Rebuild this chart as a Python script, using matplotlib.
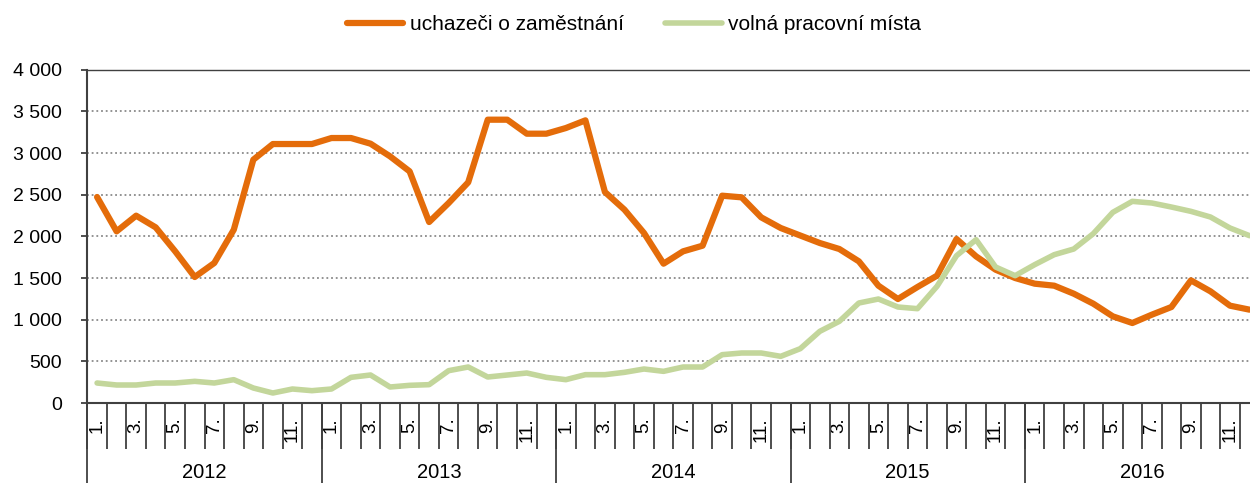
import numpy as np
import matplotlib
matplotlib.use("Agg")
import matplotlib.pyplot as plt
import matplotlib.transforms as mtransforms
from matplotlib.ticker import FuncFormatter

plt.rcParams['font.family'] = ['Liberation Sans', 'DejaVu Sans']

# monthly data 2012-2016
years = ['2012', '2013', '2014', '2015', '2016']
uchazeci = [2472, 2060, 2248, 2108, 1820, 1512, 1680, 2080, 2920, 3108, 3108, 3108,
            3180, 3180, 3112, 2960, 2780, 2172, 2400, 2648, 3400, 3400, 3232, 3232,
            3300, 3392, 2532, 2320, 2040, 1672, 1820, 1888, 2488, 2468, 2228, 2100,
            2010, 1920, 1848, 1700, 1408, 1248, 1392, 1528, 1968, 1760, 1600, 1500,
            1432, 1408, 1312, 1192, 1040, 960, 1060, 1152, 1472, 1340, 1168, 1120]
volna_mista = [240, 216, 216, 240, 240, 260, 240, 280, 180, 120, 168, 148,
               168, 308, 336, 192, 212, 220, 388, 432, 312, 336, 360, 308,
               280, 340, 340, 368, 408, 380, 432, 432, 580, 600, 600, 560,
               652, 860, 980, 1200, 1248, 1152, 1132, 1400, 1768, 1960, 1632, 1528,
               1660, 1780, 1848, 2032, 2288, 2420, 2400, 2352, 2300, 2232, 2100, 2008]
month_labels = ['1.', '3.', '5.', '7.', '9.', '11.']

W, H = 1250, 483
fig = plt.figure(figsize=(W / 100, H / 100), dpi=100)
# plot area runs a bit past the right edge (cropped like the original)
ax = fig.add_axes([87.3 / W, 80 / H, 1172 / W, 333.3 / H])

x = np.arange(len(uchazeci))
ax.plot(x, uchazeci, color='#E46C0A', lw=4.5, solid_joinstyle='round',
        solid_capstyle='round', label='uchazeči o zaměstnání', zorder=3)
ax.plot(x, volna_mista, color='#C3D69B', lw=4.0, solid_joinstyle='round',
        solid_capstyle='round', label='volná pracovní místa', zorder=4)

ax.set_xlim(-0.5, len(x) - 0.5)
ax.set_ylim(0, 4000)
ax.set_yticks(np.arange(0, 4001, 500))
ax.yaxis.set_major_formatter(FuncFormatter(lambda v, p: f"{int(v):,}".replace(",", " ")))
ax.yaxis.grid(True, color='#8a8a8a', linestyle=(0, (1, 1.6)), lw=1.3)
ax.set_axisbelow(True)
ax.tick_params(axis='y', length=4, width=1.3, color='#404040', pad=14,
               labelsize=14, labelcolor='#000000')

# month labels (odd months) and separators between months
major = [i for i in x if i % 2 == 0]
ax.set_xticks(major)
ax.set_xticklabels([month_labels[(i % 12) // 2] for i in major], rotation=90)
ax.set_xticks(np.arange(-0.5, len(x), 1), minor=True)
ax.tick_params(axis='x', which='major', length=0, pad=10, labelsize=13.5)
ax.tick_params(axis='x', which='minor', length=33, width=1.3, color='#404040')

for s in ['left', 'bottom', 'top']:
    ax.spines[s].set_color('#404040')
    ax.spines[s].set_linewidth(1.5)
ax.spines['top'].set_linewidth(1.0)
ax.spines['right'].set_visible(False)

# year separators and labels
trans = mtransforms.blended_transform_factory(ax.transData, ax.transAxes)
for k, yr in enumerate(years):
    ax.plot([k * 12 - 0.5, k * 12 - 0.5], [0, -0.25], transform=trans,
            color='#404040', lw=1.3, clip_on=False)
    ax.text(k * 12 + 5.5, -0.209, yr, transform=trans, ha='center', va='center',
            fontsize=14.5)

fig.legend(loc='center', bbox_to_anchor=(634 / W, 1 - 25 / H), ncol=2, frameon=False,
           fontsize=15, handlelength=2.7, handletextpad=0.3, columnspacing=2.0)

fig.savefig('out.png', dpi=100)
